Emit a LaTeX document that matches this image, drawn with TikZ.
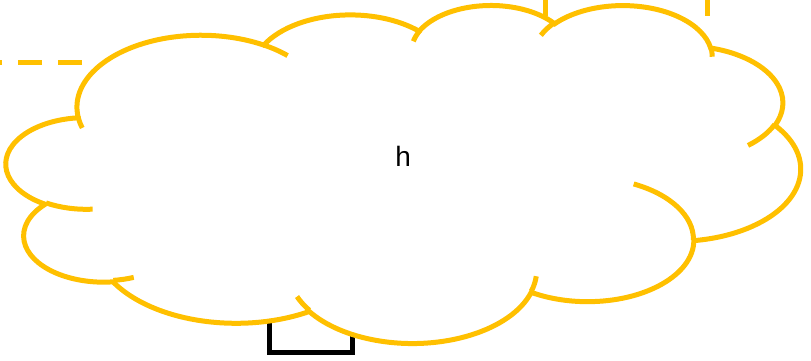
\documentclass[tikz,border=0pt]{standalone}
\usepackage{fontspec}
\setmainfont{Liberation Sans}
\usepackage{tikz}
\usetikzlibrary{positioning}
\definecolor{gold}{HTML}{FFC000}

\begin{document}
\begin{tikzpicture}[x=1pt,y=-1pt,
  cloudline/.style={draw=gold,line width=5pt},
  dashline/.style={draw=gold,line width=5pt,dash pattern=on 23.3pt off 16.7pt},
  boxline/.style={draw=black,line width=4.6pt,inner sep=0pt,minimum width=82.6pt,minimum height=62pt}]
\useasboundingbox (0,0) rectangle (811,360);
% lines running behind the cloud
\coordinate (lstart) at (-21.7,62.7);
\coordinate (lend) at (84,62.7);
\draw[dashline] (lstart) -- (lend);
\foreach \x/\n in {545.3/a,707/b} {
  \coordinate (top\n) at (\x,-7.3);
  \coordinate (bot\n) at (\x,30);
  \draw[dashline] (top\n) -- (bot\n);
}
\node[boxline] (box) at (311,321.3) {};
% the cloud, arcs of ellipses
\begin{scope}[shift={(6.4,4.4)},x=1.838pt,y=-0.7822pt]
\draw[cloudline,fill=white] (39.00,143.70)
  arc[start angle=-187.75,end angle=-59.64,x radius=67.53,y radius=91.90]
  arc[start angle=-152.03,end angle=-45.46,x radius=53.33,y radius=72.67]
  arc[start angle=-153.49,end angle=-37.32,x radius=43.65,y radius=59.45]
  arc[start angle=-139.71,end angle=-10.21,x radius=48.57,y radius=65.95]
  arc[start angle=-74.77,end angle=23.21,x radius=53.33,y radius=72.73]
  arc[start angle=-37.52,end angle=81.86,x radius=67.75,y radius=92.20]
  arc[start angle=0.46,end angle=121.98,x radius=57.85,y radius=78.67]
  arc[start angle=16.84,end angle=146.24,x radius=67.52,y radius=92.15]
  arc[start angle=58.98,end angle=150.18,x radius=77.20,y radius=105.43]
  arc[start angle=-276.69,end angle=-136.89,x radius=43.60,y radius=59.18]
  arc[start angle=-239.64,end angle=-95.89,x radius=43.45,y radius=59.45]
  -- cycle;
\draw[cloudline]
  (46.93,261.77) arc[start angle=85.55,end angle=120.36,x radius=43.45,y radius=59.45]
  (69.28,348.99) arc[start angle=68.24,end angle=83.31,x radius=43.60,y radius=59.18]
  (164.78,390.90) arc[start angle=146.24,end angle=158.47,x radius=67.52,y radius=92.15]
  (288.27,347.51) arc[start angle=4.74,end angle=16.85,x radius=67.52,y radius=92.15]
  (341.29,229.54) arc[start angle=-64.02,end angle=0.46,x radius=57.85,y radius=78.67]
  (417.98,153.54) arc[start angle=23.21,end angle=49.64,x radius=53.33,y radius=72.73]
  (383.24,54.26) arc[start angle=-10.21,end angle=0.82,x radius=48.57,y radius=65.95]
  (290.78,39.52) arc[start angle=-156.29,end angle=-139.71,x radius=48.57,y radius=65.95]
  (221.41,47.20) arc[start angle=-167.73,end angle=-153.49,x radius=43.65,y radius=59.45]
  (140.00,51.92) arc[start angle=-59.64,end angle=-45.74,x radius=67.53,y radius=91.90]
  (41.27,157.89) arc[start angle=163.19,end angle=172.25,x radius=67.53,y radius=91.90];
\end{scope}
\node[anchor=base,inner sep=0pt,font=\fontsize{28}{32}\selectfont] (label) at (403.2,166.7) {h};
\end{tikzpicture}
\end{document}
